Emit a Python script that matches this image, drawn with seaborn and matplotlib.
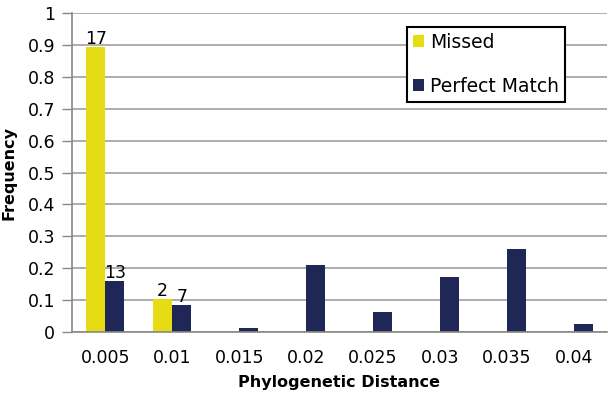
import matplotlib
matplotlib.use("Agg")
import matplotlib.pyplot as plt
import seaborn as sns
import pandas as pd

categories = ["0.005", "0.01", "0.015", "0.02", "0.025", "0.03", "0.035", "0.04"]
missed = [17/19, 2/19, 0, 0, 0, 0, 0, 0]
perfect = [0.160, 0.086, 0.012, 0.210, 0.062, 0.173, 0.259, 0.025]
missed_counts = ["17", "2", "", "", "", "", "", ""]
perfect_counts = ["13", "7", "", "", "", "", "", ""]
series = ["Missed", "Perfect Match"]
colors = ["#E6DC14", "#1E2756"]

df = pd.DataFrame({
    "Phylogenetic Distance": categories * 2,
    "Frequency": missed + perfect,
    "Series": [series[0]] * len(categories) + [series[1]] * len(categories),
})

sns.set_style("white")
plt.rcParams['font.family'] = ['DejaVu Sans']
plt.rcParams['text.color'] = 'black'
plt.rcParams['xtick.labelcolor'] = 'black'
plt.rcParams['ytick.labelcolor'] = 'black'
plt.rcParams['axes.labelcolor'] = 'black'

fig = plt.figure(figsize=(6.15, 4.07), dpi=100)
ax = fig.add_axes([0.117, 0.184, 0.870, 0.784])

sns.barplot(data=df, x="Phylogenetic Distance", y="Frequency", hue="Series",
            palette=colors, width=0.57, ax=ax, saturation=1, gap=0, linewidth=0)

for cont, labs in zip(ax.containers, [missed_counts, perfect_counts]):
    ax.bar_label(cont, labels=labs, fontsize=12.5, padding=-1, color="black")

ax.set_ylim(0, 1)
ax.set_yticks([i / 10 for i in range(11)])
ax.set_yticklabels(["0", "0.1", "0.2", "0.3", "0.4", "0.5", "0.6", "0.7", "0.8", "0.9", "1"], fontsize=12.5)
ax.set_xlim(-0.5, len(categories) - 0.5)
ax.set_xticks(range(len(categories)))
ax.set_xticklabels(categories, fontsize=12.5)
ax.tick_params(axis="x", which="major", length=0, pad=12)
ax.set_xticks([i - 0.5 for i in range(len(categories) + 1)], minor=True)
ax.tick_params(axis="x", which="minor", length=6, color="#888888", width=1)
ax.tick_params(axis="y", length=7, color="#888888", width=1, left=True, pad=5)

ax.yaxis.grid(True, color="#A0A0A0", linewidth=1.2)
ax.set_axisbelow(True)
for s in ["top", "right"]:
    ax.spines[s].set_visible(False)
for s in ["left", "bottom"]:
    ax.spines[s].set_color("#888888")
    ax.spines[s].set_linewidth(1.2)

ax.set_xlabel("Phylogenetic Distance", fontsize=11.5, fontweight="bold", labelpad=6)
ax.set_ylabel("Frequency", fontsize=11.5, fontweight="bold", labelpad=8)

leg = ax.legend(loc="upper left", bbox_to_anchor=(0.626, 0.956), fontsize=13.5,
                frameon=True, fancybox=False, edgecolor="black", framealpha=1,
                handlelength=0.6, handleheight=0.6, handletextpad=0.35,
                labelspacing=1.35, borderpad=0.3, borderaxespad=0, title=None)
leg.get_frame().set_linewidth(1.5)

fig.savefig("out.png", dpi=100)
